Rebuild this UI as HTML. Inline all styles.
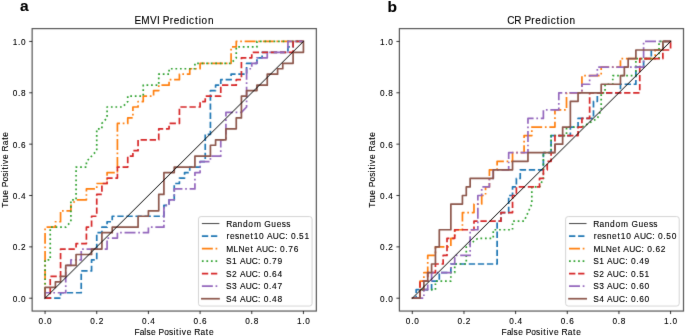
<!DOCTYPE html>
<html><head><meta charset="utf-8"><style>html,body{margin:0;padding:0;background:#fff;overflow:hidden;}svg{display:block;}</style></head>
<body><svg width="685" height="336" viewBox="0 0 685 336" font-family='"Liberation Sans", sans-serif' font-size="9.35" fill="#000">
<defs><filter id="bl" filterUnits="userSpaceOnUse" x="0" y="0" width="685" height="336" color-interpolation-filters="sRGB"><feConvolveMatrix order="3" kernelMatrix="0.01 0.08 0.01 0.08 0.64 0.08 0.01 0.08 0.01" edgeMode="duplicate"/></filter>
<filter id="bt" filterUnits="userSpaceOnUse" x="0" y="0" width="685" height="336" color-interpolation-filters="sRGB"><feConvolveMatrix order="3" kernelMatrix="0.0025 0.045 0.0025 0.045 0.81 0.045 0.0025 0.045 0.0025" edgeMode="none"/></filter></defs>
<rect width="685" height="336" fill="#fff"/>
<g filter="url(#bl)">
<rect width="685" height="336" fill="#fff"/>
<clipPath id="clipL"><rect x="32.15" y="28.6" width="284.2" height="282.45"/></clipPath>
<g clip-path="url(#clipL)">
<path d="M45.07,298.21 L60.57,298.21 L60.57,292.75 L81.24,292.75 L81.24,270.9 L91.57,270.9 L91.57,259.97 L96.74,259.97 L96.74,232.65 L101.91,232.65 L101.91,227.19 L107.08,227.19 L107.08,221.73 L112.24,221.73 L112.24,216.26 L163.92,216.26 L163.92,205.34 L169.08,205.34 L169.08,199.87 L174.25,199.87 L174.25,183.48 L179.42,183.48 L179.42,178.02 L184.58,178.02 L184.58,172.56 L189.75,172.56 L189.75,167.09 L200.09,167.09 L200.09,161.63 L205.25,161.63 L205.25,134.31 L210.42,134.31 L210.42,90.61 L215.59,90.61 L215.59,85.14 L220.76,85.14 L220.76,79.68 L231.09,79.68 L231.09,74.22 L246.59,74.22 L246.59,63.29 L256.93,63.29 L256.93,57.83 L262.09,57.83 L262.09,52.37 L287.93,52.37 L287.93,46.9 L293.1,46.9 L293.1,41.44 L303.43,41.44" fill="none" stroke="#1f77b4" stroke-width="1.71" stroke-linejoin="round" stroke-linecap="butt" stroke-dasharray="6.33,2.74"/>
<path d="M45.07,298.21 L45.07,227.19 L55.4,227.19 L55.4,221.73 L60.57,221.73 L60.57,210.8 L70.9,210.8 L70.9,205.34 L76.07,199.87 L86.41,199.87 L86.41,188.95 L96.74,188.95 L96.74,183.48 L107.08,183.48 L107.08,172.56 L117.41,172.56 L117.41,123.39 L127.74,123.39 L127.74,117.92 L132.91,117.92 L132.91,107 L138.08,107 L138.08,101.53 L143.25,101.53 L143.25,96.07 L153.58,96.07 L153.58,90.61 L158.75,90.61 L158.75,85.14 L169.08,85.14 L169.08,79.68 L179.42,79.68 L179.42,74.22 L189.75,74.22 L189.75,68.75 L200.09,68.75 L200.09,63.29 L231.09,63.29 L231.09,46.9 L236.26,46.9 L236.26,41.44 L303.43,41.44" fill="none" stroke="#ff7f0e" stroke-width="1.71" stroke-linejoin="round" stroke-linecap="butt" stroke-dasharray="10.94,2.74,1.71,2.74"/>
<path d="M45.07,298.21 L45.07,259.97 L50.24,259.97 L50.24,227.19 L65.74,227.19 L70.9,221.73 L70.9,199.87 L76.07,199.87 L76.07,167.09 L86.41,167.09 L86.41,161.63 L96.74,150.7 L96.74,128.85 L101.91,128.85 L101.91,123.39 L107.08,117.92 L107.08,107 L122.58,107 L127.74,101.53 L127.74,96.07 L143.25,96.07 L143.25,85.14 L158.75,85.14 L158.75,74.22 L169.08,74.22 L169.08,68.75 L194.92,68.75 L194.92,63.29 L231.09,63.29 L236.26,57.83 L236.26,46.9 L256.93,46.9 L256.93,41.44 L303.43,41.44" fill="none" stroke="#2ca02c" stroke-width="1.71" stroke-linejoin="round" stroke-linecap="butt" stroke-dasharray="1.71,2.82"/>
<path d="M45.07,298.21 L50.24,298.21 L50.24,276.36 L60.57,276.36 L60.57,249.04 L76.07,249.04 L76.07,243.58 L86.41,243.58 L86.41,227.19 L91.57,227.19 L91.57,216.26 L96.74,216.26 L96.74,194.41 L101.91,194.41 L101.91,183.48 L107.08,183.48 L107.08,178.02 L117.41,178.02 L117.41,167.09 L127.74,167.09 L127.74,156.17 L132.91,156.17 L132.91,150.7 L138.08,150.7 L138.08,139.78 L158.75,139.78 L158.75,128.85 L169.08,128.85 L169.08,123.39 L179.42,123.39 L179.42,107 L200.09,107 L200.09,101.53 L205.25,101.53 L205.25,96.07 L220.76,96.07 L220.76,85.14 L236.26,85.14 L236.26,79.68 L241.42,79.68 L241.42,57.83 L251.76,57.83 L251.76,52.37 L293.1,52.37 L293.1,41.44 L303.43,41.44" fill="none" stroke="#d62728" stroke-width="1.71" stroke-linejoin="round" stroke-linecap="butt" stroke-dasharray="6.33,2.74"/>
<path d="M45.07,298.21 L45.07,292.75 L65.74,292.75 L65.74,265.43 L70.9,265.43 L70.9,259.97 L81.24,259.97 L81.24,249.04 L107.08,249.04 L107.08,238.12 L117.41,238.12 L117.41,232.65 L148.41,232.65 L148.41,227.19 L163.92,227.19 L163.92,205.34 L169.08,205.34 L169.08,199.87 L174.25,199.87 L174.25,188.95 L194.92,188.95 L194.92,172.56 L200.09,172.56 L200.09,161.63 L210.42,161.63 L210.42,156.17 L220.76,156.17 L220.76,139.78 L225.92,139.78 L225.92,112.46 L241.42,112.46 L246.59,107 L246.59,68.75 L251.76,68.75 L251.76,63.29 L256.93,63.29 L256.93,57.83 L267.26,57.83 L267.26,52.37 L287.93,52.37 L287.93,41.44 L303.43,41.44" fill="none" stroke="#9467bd" stroke-width="1.71" stroke-linejoin="round" stroke-linecap="butt" stroke-dasharray="10.94,2.74,1.71,2.74"/>
<path d="M45.07,298.21 L45.07,287.28 L55.4,287.28 L55.4,281.82 L60.57,281.82 L60.57,276.36 L65.74,276.36 L65.74,265.43 L76.07,265.43 L76.07,254.51 L91.57,254.51 L91.57,249.04 L101.91,249.04 L101.91,232.65 L112.24,232.65 L112.24,227.19 L138.08,227.19 L138.08,216.26 L148.41,216.26 L148.41,210.8 L158.75,210.8 L158.75,194.41 L163.92,194.41 L163.92,172.56 L174.25,172.56 L174.25,167.09 L194.92,167.09 L194.92,156.17 L210.42,156.17 L210.42,145.24 L215.59,145.24 L215.59,139.78 L225.92,139.78 L225.92,128.85 L236.26,128.85 L236.26,117.92 L241.42,117.92 L241.42,96.07 L246.59,96.07 L246.59,90.61 L256.93,90.61 L256.93,85.14 L267.26,85.14 L267.26,74.22 L277.6,74.22 L277.6,68.75 L282.76,68.75 L282.76,63.29 L293.1,63.29 L293.1,52.37 L303.43,52.37 L303.43,41.44" fill="none" stroke="#8c564b" stroke-width="1.71" stroke-linejoin="round" stroke-linecap="square"/>
<line x1="45.07" y1="298.21" x2="303.43" y2="41.44" stroke="#000" stroke-width="1.0" stroke-linecap="square"/>
</g>
<rect x="32.15" y="28.6" width="284.2" height="282.45" fill="none" stroke="#555" stroke-width="1.2"/>
<line x1="45.07" y1="311.05" x2="45.07" y2="314.04" stroke="#000" stroke-width="0.8"/>
<line x1="32.15" y1="298.21" x2="29.16" y2="298.21" stroke="#000" stroke-width="0.8"/>
<line x1="96.74" y1="311.05" x2="96.74" y2="314.04" stroke="#000" stroke-width="0.8"/>
<line x1="32.15" y1="246.86" x2="29.16" y2="246.86" stroke="#000" stroke-width="0.8"/>
<line x1="148.41" y1="311.05" x2="148.41" y2="314.04" stroke="#000" stroke-width="0.8"/>
<line x1="32.15" y1="195.5" x2="29.16" y2="195.5" stroke="#000" stroke-width="0.8"/>
<line x1="200.09" y1="311.05" x2="200.09" y2="314.04" stroke="#000" stroke-width="0.8"/>
<line x1="32.15" y1="144.15" x2="29.16" y2="144.15" stroke="#000" stroke-width="0.8"/>
<line x1="251.76" y1="311.05" x2="251.76" y2="314.04" stroke="#000" stroke-width="0.8"/>
<line x1="32.15" y1="92.79" x2="29.16" y2="92.79" stroke="#000" stroke-width="0.8"/>
<line x1="303.43" y1="311.05" x2="303.43" y2="314.04" stroke="#000" stroke-width="0.8"/>
<line x1="32.15" y1="41.44" x2="29.16" y2="41.44" stroke="#000" stroke-width="0.8"/>
<rect x="198.47" y="216.55" width="113.6" height="89.5" rx="2.6" ry="2.6" fill="#fff" fill-opacity="0.8" stroke="#cccccc" stroke-width="0.85"/>
<line x1="201.89" y1="223.55" x2="219.39" y2="223.55" stroke="#000" stroke-opacity="0.75" stroke-width="1.0" stroke-linecap="butt"/>
<line x1="201.89" y1="236.08" x2="218.99" y2="236.08" stroke="#1f77b4" stroke-width="1.71" stroke-linecap="butt" stroke-dasharray="6.33,2.74"/>
<line x1="201.89" y1="248.61" x2="218.99" y2="248.61" stroke="#ff7f0e" stroke-width="1.71" stroke-linecap="butt" stroke-dasharray="10.94,2.74,1.71,2.74"/>
<line x1="201.89" y1="261.14" x2="218.99" y2="261.14" stroke="#2ca02c" stroke-width="1.71" stroke-linecap="butt" stroke-dasharray="1.71,2.82"/>
<line x1="201.89" y1="273.67" x2="218.99" y2="273.67" stroke="#d62728" stroke-width="1.71" stroke-linecap="butt" stroke-dasharray="6.33,2.74"/>
<line x1="201.89" y1="286.2" x2="218.99" y2="286.2" stroke="#9467bd" stroke-width="1.71" stroke-linecap="butt" stroke-dasharray="10.94,2.74,1.71,2.74"/>
<line x1="201.89" y1="298.73" x2="218.99" y2="298.73" stroke="#8c564b" stroke-width="1.71" stroke-linecap="square"/>
<clipPath id="clipR"><rect x="399.4" y="28.6" width="284.1" height="282.45"/></clipPath>
<g clip-path="url(#clipR)">
<path d="M412.31,298.21 L416.17,298.21 L416.17,289.65 L431.59,289.65 L431.59,281.09 L439.3,281.09 L439.3,272.53 L450.86,272.53 L450.86,263.98 L497.12,263.98 L497.12,221.18 L500.97,221.18 L500.97,212.62 L508.68,212.62 L508.68,195.5 L512.54,195.5 L512.54,186.94 L516.39,186.94 L516.39,178.38 L520.25,178.38 L520.25,169.83 L543.38,169.83 L543.38,152.71 L551.09,152.71 L551.09,135.59 L570.36,135.59 L570.36,127.03 L578.07,127.03 L578.07,118.47 L593.49,118.47 L593.49,101.35 L597.34,101.35 L597.34,92.79 L620.47,92.79 L620.47,84.23 L635.89,84.23 L635.89,67.12 L643.6,67.12 L643.6,58.56 L651.31,58.56 L651.31,50 L662.88,50 L662.88,41.44 L670.59,41.44" fill="none" stroke="#1f77b4" stroke-width="1.71" stroke-linejoin="round" stroke-linecap="butt" stroke-dasharray="6.33,2.74"/>
<path d="M412.31,298.21 L420.02,298.21 L420.02,281.09 L423.88,281.09 L423.88,272.53 L427.73,272.53 L427.73,255.42 L435.44,255.42 L435.44,246.86 L450.86,246.86 L450.86,238.3 L454.72,238.3 L454.72,229.74 L462.43,229.74 L462.43,212.62 L473.99,212.62 L473.99,204.06 L481.7,204.06 L481.7,195.5 L485.56,195.5 L485.56,186.94 L489.41,186.94 L489.41,169.83 L497.12,169.83 L497.12,161.27 L512.54,161.27 L512.54,152.71 L524.1,152.71 L524.1,135.59 L531.81,135.59 L531.81,127.03 L554.94,127.03 L554.94,109.91 L566.51,109.91 L566.51,92.79 L581.93,92.79 L581.93,75.68 L601.2,75.68 L601.2,67.12 L620.47,67.12 L620.47,58.56 L655.17,58.56 L655.17,50 L662.88,50 L662.88,41.44 L670.59,41.44" fill="none" stroke="#ff7f0e" stroke-width="1.71" stroke-linejoin="round" stroke-linecap="butt" stroke-dasharray="10.94,2.74,1.71,2.74"/>
<path d="M412.31,298.21 L420.02,298.21 L420.02,289.65 L435.44,289.65 L435.44,281.09 L450.86,281.09 L450.86,272.53 L454.72,272.53 L454.72,263.98 L466.28,263.98 L466.28,246.86 L477.85,238.3 L493.26,238.3 L493.26,229.74 L512.54,229.74 L512.54,221.18 L524.1,221.18 L531.81,204.06 L531.81,186.94 L539.52,186.94 L543.38,178.38 L543.38,152.71 L551.09,152.71 L551.09,135.59 L566.51,135.59 L566.51,127.03 L581.93,127.03 L597.34,118.47 L601.2,109.91 L601.2,92.79 L605.05,92.79 L605.05,84.23 L612.76,84.23 L612.76,75.68 L620.47,75.68 L635.89,75.68 L635.89,58.56 L659.02,58.56 L659.02,41.44 L670.59,41.44" fill="none" stroke="#2ca02c" stroke-width="1.71" stroke-linejoin="round" stroke-linecap="butt" stroke-dasharray="1.71,2.82"/>
<path d="M412.31,298.21 L420.02,298.21 L420.02,281.09 L427.73,281.09 L427.73,272.53 L435.44,272.53 L435.44,263.98 L443.15,263.98 L443.15,255.42 L447.01,255.42 L447.01,238.3 L454.72,238.3 L454.72,229.74 L473.99,229.74 L473.99,221.18 L500.97,221.18 L500.97,212.62 L512.54,212.62 L512.54,195.5 L516.39,195.5 L516.39,186.94 L539.52,186.94 L539.52,178.38 L543.38,178.38 L543.38,169.83 L547.23,169.83 L547.23,161.27 L551.09,161.27 L551.09,152.71 L554.94,152.71 L554.94,135.59 L578.07,135.59 L578.07,127.03 L581.93,127.03 L581.93,118.47 L589.64,118.47 L589.64,92.79 L639.75,92.79 L639.75,58.56 L662.88,58.56 L662.88,50 L670.59,50 L670.59,41.44" fill="none" stroke="#d62728" stroke-width="1.71" stroke-linejoin="round" stroke-linecap="butt" stroke-dasharray="6.33,2.74"/>
<path d="M412.31,298.21 L423.88,298.21 L423.88,289.65 L427.73,289.65 L427.73,281.09 L431.59,281.09 L431.59,272.53 L450.86,272.53 L450.86,263.98 L454.72,263.98 L454.72,255.42 L470.14,255.42 L470.14,229.74 L477.85,229.74 L477.85,195.5 L481.7,195.5 L481.7,186.94 L489.41,186.94 L489.41,178.38 L493.26,178.38 L493.26,169.83 L508.68,169.83 L508.68,152.71 L527.96,152.71 L527.96,118.47 L543.38,118.47 L543.38,109.91 L558.8,109.91 L558.8,92.79 L578.07,92.79 L581.93,92.79 L581.93,84.23 L589.64,84.23 L589.64,75.68 L597.34,75.68 L597.34,67.12 L643.6,67.12 L643.6,41.44 L670.59,41.44" fill="none" stroke="#9467bd" stroke-width="1.71" stroke-linejoin="round" stroke-linecap="butt" stroke-dasharray="10.94,2.74,1.71,2.74"/>
<path d="M412.31,298.21 L420.02,298.21 L420.02,289.65 L423.88,289.65 L423.88,281.09 L427.73,281.09 L427.73,272.53 L431.59,272.53 L431.59,263.98 L435.44,263.98 L435.44,246.86 L439.3,246.86 L439.3,229.74 L450.86,229.74 L450.86,204.06 L462.43,204.06 L462.43,195.5 L466.28,195.5 L466.28,186.94 L470.14,186.94 L470.14,178.38 L493.26,178.38 L493.26,169.83 L512.54,169.83 L512.54,161.27 L527.96,161.27 L527.96,152.71 L554.94,152.71 L554.94,144.15 L562.65,144.15 L562.65,127.03 L570.36,127.03 L570.36,101.35 L578.07,101.35 L578.07,92.79 L601.2,92.79 L601.2,84.23 L620.47,84.23 L620.47,75.68 L624.33,75.68 L624.33,67.12 L628.18,67.12 L628.18,58.56 L635.89,58.56 L635.89,50 L662.88,50 L662.88,41.44 L670.59,41.44" fill="none" stroke="#8c564b" stroke-width="1.71" stroke-linejoin="round" stroke-linecap="square"/>
<line x1="412.31" y1="298.21" x2="670.59" y2="41.44" stroke="#000" stroke-width="1.0" stroke-linecap="square"/>
</g>
<rect x="399.4" y="28.6" width="284.1" height="282.45" fill="none" stroke="#555" stroke-width="1.2"/>
<line x1="412.31" y1="311.05" x2="412.31" y2="314.04" stroke="#000" stroke-width="0.8"/>
<line x1="399.4" y1="298.21" x2="396.41" y2="298.21" stroke="#000" stroke-width="0.8"/>
<line x1="463.97" y1="311.05" x2="463.97" y2="314.04" stroke="#000" stroke-width="0.8"/>
<line x1="399.4" y1="246.86" x2="396.41" y2="246.86" stroke="#000" stroke-width="0.8"/>
<line x1="515.62" y1="311.05" x2="515.62" y2="314.04" stroke="#000" stroke-width="0.8"/>
<line x1="399.4" y1="195.5" x2="396.41" y2="195.5" stroke="#000" stroke-width="0.8"/>
<line x1="567.28" y1="311.05" x2="567.28" y2="314.04" stroke="#000" stroke-width="0.8"/>
<line x1="399.4" y1="144.15" x2="396.41" y2="144.15" stroke="#000" stroke-width="0.8"/>
<line x1="618.93" y1="311.05" x2="618.93" y2="314.04" stroke="#000" stroke-width="0.8"/>
<line x1="399.4" y1="92.79" x2="396.41" y2="92.79" stroke="#000" stroke-width="0.8"/>
<line x1="670.59" y1="311.05" x2="670.59" y2="314.04" stroke="#000" stroke-width="0.8"/>
<line x1="399.4" y1="41.44" x2="396.41" y2="41.44" stroke="#000" stroke-width="0.8"/>
<rect x="565.62" y="216.55" width="113.6" height="89.5" rx="2.6" ry="2.6" fill="#fff" fill-opacity="0.8" stroke="#cccccc" stroke-width="0.85"/>
<line x1="569.04" y1="223.55" x2="586.54" y2="223.55" stroke="#000" stroke-opacity="0.75" stroke-width="1.0" stroke-linecap="butt"/>
<line x1="569.04" y1="236.08" x2="586.14" y2="236.08" stroke="#1f77b4" stroke-width="1.71" stroke-linecap="butt" stroke-dasharray="6.33,2.74"/>
<line x1="569.04" y1="248.61" x2="586.14" y2="248.61" stroke="#ff7f0e" stroke-width="1.71" stroke-linecap="butt" stroke-dasharray="10.94,2.74,1.71,2.74"/>
<line x1="569.04" y1="261.14" x2="586.14" y2="261.14" stroke="#2ca02c" stroke-width="1.71" stroke-linecap="butt" stroke-dasharray="1.71,2.82"/>
<line x1="569.04" y1="273.67" x2="586.14" y2="273.67" stroke="#d62728" stroke-width="1.71" stroke-linecap="butt" stroke-dasharray="6.33,2.74"/>
<line x1="569.04" y1="286.2" x2="586.14" y2="286.2" stroke="#9467bd" stroke-width="1.71" stroke-linecap="butt" stroke-dasharray="10.94,2.74,1.71,2.74"/>
<line x1="569.04" y1="298.73" x2="586.14" y2="298.73" stroke="#8c564b" stroke-width="1.71" stroke-linecap="square"/>
</g>
<g filter="url(#bt)" stroke="#000" stroke-width="0.12">
<text transform="translate(38.07,323.6) scale(0.86,1)" x="0.59 6.8 10.35" y="0" font-size="9.6">0.0</text>
<text transform="translate(12.19,301.71) scale(0.86,1)" x="0.59 6.8 10.35" y="0" font-size="9.6">0.0</text>
<text transform="translate(89.74,323.6) scale(0.86,1)" x="0.59 6.8 10.35" y="0" font-size="9.6">0.2</text>
<text transform="translate(12.19,250.36) scale(0.86,1)" x="0.59 6.8 10.35" y="0" font-size="9.6">0.2</text>
<text transform="translate(141.42,323.6) scale(0.86,1)" x="0.59 6.8 10.35" y="0" font-size="9.6">0.4</text>
<text transform="translate(12.19,199) scale(0.86,1)" x="0.59 6.8 10.35" y="0" font-size="9.6">0.4</text>
<text transform="translate(193.09,323.6) scale(0.86,1)" x="0.59 6.8 10.35" y="0" font-size="9.6">0.6</text>
<text transform="translate(12.19,147.65) scale(0.86,1)" x="0.59 6.8 10.35" y="0" font-size="9.6">0.6</text>
<text transform="translate(244.76,323.6) scale(0.86,1)" x="0.59 6.8 10.35" y="0" font-size="9.6">0.8</text>
<text transform="translate(12.19,96.29) scale(0.86,1)" x="0.59 6.8 10.35" y="0" font-size="9.6">0.8</text>
<text transform="translate(296.43,323.6) scale(0.86,1)" x="0.59 6.8 10.35" y="0" font-size="9.6">1.0</text>
<text transform="translate(12.19,44.94) scale(0.86,1)" x="0.59 6.8 10.35" y="0" font-size="9.6">1.0</text>
<text transform="translate(134.52,23.75) scale(0.92,1)" x="-0.12 7.29 16.81 24.38 27.79 30.79 38.26 42.56 49.27 56.17 59.26 65.71 69.74 72.87 79.81" y="0" font-size="10.9">EMVI Prediction</text>
<text transform="translate(134.52,335.2) scale(0.9,1)" x="-0.12 5.78 10.69 13.19 18.33 24.06 26.61 32.9 38.21 43.3 46.22 49.66 52.5 57.97 63.7 66.43 73.42 79.29 82.77" y="0">False Positive Rate</text>
<g transform="translate(7.95,169.83) rotate(-90)"><text transform="translate(-38.08,0) scale(0.9,1)" x="0.05 6.2 8.72 14.66 20.39 22.94 29.23 34.54 39.63 42.55 46 48.83 54.3 60.03 62.76 69.75 75.62 79.1" y="0">True Positive Rate</text></g>
<text transform="translate(226.19,226.65) scale(0.9,1)" x="-0.08 6.91 12.62 18.65 24.57 30.81 39.54 42.4 50.12 56.06 61.72 66.67" y="0">Random Guess</text>
<text transform="translate(226.19,239.18) scale(0.9,1)" x="0.4 4.23 9.68 14.9 20.83 26.92 30.5 36.55 42.38 45.32 51.79 58.58 65.58 68.69 71.92 77.75 80.98 87.03" y="0">resnet10 AUC: 0.51</text>
<text transform="translate(226.19,251.71) scale(0.9,1)" x="0.2 8.24 13.67 20.92 27 30.38 33.32 39.78 46.58 53.57 56.68 59.91 65.75 68.98 75.02" y="0">MLNet AUC: 0.76</text>
<text transform="translate(226.19,264.24) scale(0.9,1)" x="-0.1 6.45 12.29 15.23 21.69 28.49 35.48 38.59 41.82 47.66 50.89 56.93" y="0">S1 AUC: 0.79</text>
<text transform="translate(226.19,276.77) scale(0.9,1)" x="-0.1 6.45 12.29 15.23 21.69 28.49 35.48 38.59 41.82 47.66 50.89 56.93" y="0">S2 AUC: 0.64</text>
<text transform="translate(226.19,289.3) scale(0.9,1)" x="-0.1 6.45 12.29 15.23 21.69 28.49 35.48 38.59 41.82 47.66 50.89 56.93" y="0">S3 AUC: 0.47</text>
<text transform="translate(226.19,301.83) scale(0.9,1)" x="-0.1 6.45 12.29 15.23 21.69 28.49 35.48 38.59 41.82 47.66 50.89 56.93" y="0">S4 AUC: 0.48</text>
<text transform="translate(405.32,323.6) scale(0.86,1)" x="0.59 6.8 10.35" y="0" font-size="9.6">0.0</text>
<text transform="translate(379.44,301.71) scale(0.86,1)" x="0.59 6.8 10.35" y="0" font-size="9.6">0.0</text>
<text transform="translate(456.97,323.6) scale(0.86,1)" x="0.59 6.8 10.35" y="0" font-size="9.6">0.2</text>
<text transform="translate(379.44,250.36) scale(0.86,1)" x="0.59 6.8 10.35" y="0" font-size="9.6">0.2</text>
<text transform="translate(508.63,323.6) scale(0.86,1)" x="0.59 6.8 10.35" y="0" font-size="9.6">0.4</text>
<text transform="translate(379.44,199) scale(0.86,1)" x="0.59 6.8 10.35" y="0" font-size="9.6">0.4</text>
<text transform="translate(560.28,323.6) scale(0.86,1)" x="0.59 6.8 10.35" y="0" font-size="9.6">0.6</text>
<text transform="translate(379.44,147.65) scale(0.86,1)" x="0.59 6.8 10.35" y="0" font-size="9.6">0.6</text>
<text transform="translate(611.93,323.6) scale(0.86,1)" x="0.59 6.8 10.35" y="0" font-size="9.6">0.8</text>
<text transform="translate(379.44,96.29) scale(0.86,1)" x="0.59 6.8 10.35" y="0" font-size="9.6">0.8</text>
<text transform="translate(663.59,323.6) scale(0.86,1)" x="0.59 6.8 10.35" y="0" font-size="9.6">1.0</text>
<text transform="translate(379.44,44.94) scale(0.86,1)" x="0.59 6.8 10.35" y="0" font-size="9.6">1.0</text>
<text transform="translate(507.25,23.75) scale(0.92,1)" x="-0.05 7.7 15.76 18.76 26.23 30.53 37.24 44.14 47.23 53.68 57.72 60.85 67.78" y="0" font-size="10.9">CR Prediction</text>
<text transform="translate(501.72,335.2) scale(0.9,1)" x="-0.12 5.78 10.69 13.19 18.33 24.06 26.61 32.9 38.21 43.3 46.22 49.66 52.5 57.97 63.7 66.43 73.42 79.29 82.77" y="0">False Positive Rate</text>
<g transform="translate(375.2,169.83) rotate(-90)"><text transform="translate(-38.08,0) scale(0.9,1)" x="0.05 6.2 8.72 14.66 20.39 22.94 29.23 34.54 39.63 42.55 46 48.83 54.3 60.03 62.76 69.75 75.62 79.1" y="0">True Positive Rate</text></g>
<text transform="translate(593.34,226.65) scale(0.9,1)" x="-0.08 6.91 12.62 18.65 24.57 30.81 39.54 42.4 50.12 56.06 61.72 66.67" y="0">Random Guess</text>
<text transform="translate(593.34,239.18) scale(0.9,1)" x="0.4 4.23 9.68 14.9 20.83 26.92 30.5 36.55 42.38 45.32 51.79 58.58 65.58 68.69 71.92 77.75 80.98 87.03" y="0">resnet10 AUC: 0.50</text>
<text transform="translate(593.34,251.71) scale(0.9,1)" x="0.2 8.24 13.67 20.92 27 30.38 33.32 39.78 46.58 53.57 56.68 59.91 65.75 68.98 75.02" y="0">MLNet AUC: 0.62</text>
<text transform="translate(593.34,264.24) scale(0.9,1)" x="-0.1 6.45 12.29 15.23 21.69 28.49 35.48 38.59 41.82 47.66 50.89 56.93" y="0">S1 AUC: 0.49</text>
<text transform="translate(593.34,276.77) scale(0.9,1)" x="-0.1 6.45 12.29 15.23 21.69 28.49 35.48 38.59 41.82 47.66 50.89 56.93" y="0">S2 AUC: 0.51</text>
<text transform="translate(593.34,289.3) scale(0.9,1)" x="-0.1 6.45 12.29 15.23 21.69 28.49 35.48 38.59 41.82 47.66 50.89 56.93" y="0">S3 AUC: 0.60</text>
<text transform="translate(593.34,301.83) scale(0.9,1)" x="-0.1 6.45 12.29 15.23 21.69 28.49 35.48 38.59 41.82 47.66 50.89 56.93" y="0">S4 AUC: 0.60</text>
<text x="19.9" y="11.3" font-size="15.5" font-weight="bold">a</text>
<text x="387.4" y="11.75" font-size="15.5" font-weight="bold">b</text>
</g>
</svg></body></html>
